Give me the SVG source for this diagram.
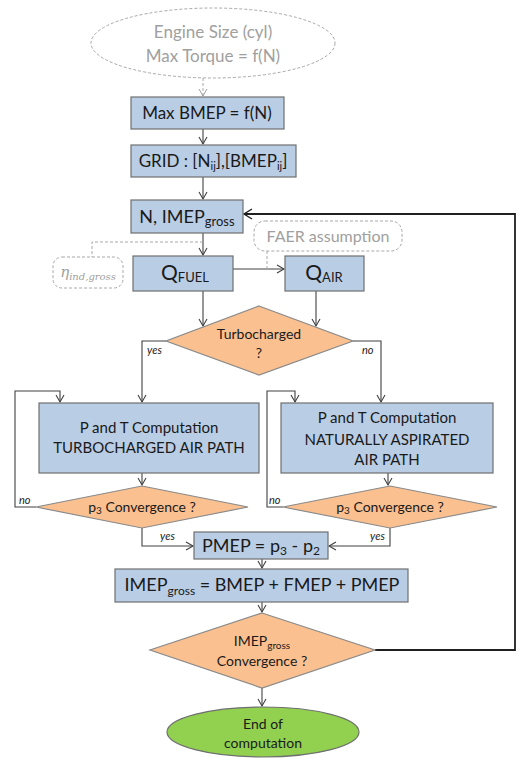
<svg xmlns="http://www.w3.org/2000/svg" width="524" height="768" viewBox="0 0 524 768">
<defs>
<marker id="ar" markerWidth="10" markerHeight="10" refX="8" refY="5" orient="auto" markerUnits="userSpaceOnUse">
<path d="M1,1 L8,5 L1,9" fill="none" stroke="#404040" stroke-width="1.1"/>
</marker>
<marker id="arg" markerWidth="10" markerHeight="10" refX="8" refY="5" orient="auto" markerUnits="userSpaceOnUse">
<path d="M1,1 L8,5 L1,9" fill="none" stroke="#a0a0a0" stroke-width="1"/>
</marker>
<marker id="arb" markerWidth="12" markerHeight="12" refX="9" refY="6" orient="auto" markerUnits="userSpaceOnUse">
<path d="M1,1 L9,6 L1,11" fill="none" stroke="#202020" stroke-width="1.4"/>
</marker>
</defs>
<style>
.box{fill:#B9CDE5;stroke:#6f6f6f;stroke-width:1.2}
.dia{fill:#FAC090;stroke:#8a8a8a;stroke-width:1.2}
.t{font-family:Lato,"Open Sans",sans-serif;fill:#1a1a1a;text-anchor:middle}
.g{font-family:Lato,"Open Sans",sans-serif;fill:#a0a0a0;text-anchor:middle}
.lb{font-family:Lato,"Open Sans",sans-serif;font-style:italic;font-size:11px;fill:#1a1a1a}
.c{fill:none;stroke:#404040;stroke-width:1.1}
.d{fill:none;stroke:#a8a8a8;stroke-width:1;stroke-dasharray:3,2}
</style>
<rect width="524" height="768" fill="#fff"/>
<g id="connectors">
<line class="d" x1="203" y1="78" x2="203" y2="96" marker-end="url(#arg)"/>
<line class="c" x1="203" y1="129" x2="203" y2="144" marker-end="url(#ar)"/>
<line class="c" x1="203" y1="177" x2="203" y2="199" marker-end="url(#ar)"/>
<line class="c" x1="203" y1="233" x2="203" y2="255" marker-end="url(#ar)"/>
<polyline class="d" points="203,242 92,242 92,257"/>
<line class="c" x1="233" y1="269" x2="284" y2="269" marker-end="url(#ar)"/>
<line class="d" x1="267" y1="251" x2="267" y2="269"/>
<line class="c" x1="203" y1="291" x2="203" y2="326" marker-end="url(#ar)"/>
<line class="c" x1="316" y1="291" x2="316" y2="326" marker-end="url(#ar)"/>
<polyline class="c" points="166,341 142,341 142,402" marker-end="url(#ar)"/>
<polyline class="c" points="353,341 381,341 381,402" marker-end="url(#ar)"/>
<line class="c" x1="142" y1="473" x2="142" y2="485" marker-end="url(#ar)"/>
<line class="c" x1="388" y1="473" x2="388" y2="485" marker-end="url(#ar)"/>
<polyline class="c" points="36,507 15,507 15,391 60,391 60,402" marker-end="url(#ar)"/>
<polyline class="c" points="283,507 267,507 267,391 295,391 295,402" marker-end="url(#ar)"/>
<polyline class="c" points="142,528 142,546 193,546" marker-end="url(#ar)"/>
<polyline class="c" points="390,528 390,546 329,546" marker-end="url(#ar)"/>
<line class="c" x1="262" y1="559" x2="262" y2="568" marker-end="url(#ar)"/>
<line class="c" x1="262" y1="602" x2="262" y2="612" marker-end="url(#ar)"/>
<line class="c" x1="262" y1="688" x2="262" y2="706" marker-end="url(#ar)"/>
<polyline fill="none" stroke="#202020" stroke-width="1.8" points="375,650 515,650 515,214 244,214" marker-end="url(#arb)"/>
<text class="lb" x="147" y="354">yes</text>
<text class="lb" x="362" y="354">no</text>
<text class="lb" x="19" y="504">no</text>
<text class="lb" x="269" y="504">no</text>
<text class="lb" x="160" y="540">yes</text>
<text class="lb" x="370" y="540">yes</text>
</g>
<g id="n-engine">
<ellipse cx="213" cy="43" rx="122" ry="35" fill="#fff" stroke="#a8a8a8" stroke-width="1" stroke-dasharray="3,2"/>
<text class="g" x="213" y="38" font-size="17">Engine Size (cyl)</text>
<text class="g" x="213" y="62" font-size="17">Max Torque = f(N)</text>
</g>
<g id="n-maxbmep">
<rect class="box" x="131" y="97" width="153" height="32"/>
<text class="t" x="207" y="119" font-size="17">Max BMEP = f(N)</text>
</g>
<g id="n-grid">
<rect class="box" x="131" y="145" width="165" height="32"/>
<text class="t" x="213" y="167" font-size="17">GRID : [N<tspan font-size="11" dy="3">ij</tspan><tspan dy="-3">],[BMEP</tspan><tspan font-size="11" dy="3">ij</tspan><tspan dy="-3">]</tspan></text>
</g>
<g id="n-nimep">
<rect class="box" x="131" y="200" width="112" height="33"/>
<text class="t" x="187" y="223" font-size="18">N, IMEP<tspan font-size="13" dy="3">gross</tspan></text>
</g>
<g id="n-eta">
<rect x="53" y="257" width="70" height="31" rx="9" fill="#fff" stroke="#a8a8a8" stroke-width="1" stroke-dasharray="3,2"/>
<text x="88" y="277" font-family="'DejaVu Serif','Liberation Serif',serif" font-style="italic" font-size="15" fill="#a0a0a0" text-anchor="middle">η<tspan font-size="10" dy="3">ind,gross</tspan></text>
</g>
<g id="n-faer">
<rect x="254" y="221" width="148" height="30" rx="11" fill="#fff" stroke="#a8a8a8" stroke-width="1" stroke-dasharray="3,2"/>
<text class="g" x="328" y="242" font-size="16">FAER assumption</text>
</g>
<g id="n-qfuel">
<rect class="box" x="133" y="256" width="100" height="35"/>
<text class="t" x="185" y="280" font-size="21">Q<tspan font-size="13" dy="2">FUEL</tspan></text>
</g>
<g id="n-qair">
<rect class="box" x="285" y="256" width="79" height="35"/>
<text class="t" x="324" y="280" font-size="21">Q<tspan font-size="13" dy="2">AIR</tspan></text>
</g>
<g id="n-turbo">
<polygon class="dia" points="259,306 353,341 259,375 166,341"/>
<text class="t" x="259" y="339" font-size="14">Turbocharged</text>
<text class="t" x="259" y="358" font-size="14">?</text>
</g>
<g id="n-tcpath">
<rect class="box" x="39" y="403" width="220" height="70"/>
<text class="t" x="149" y="433" font-size="15">P and T Computation</text>
<text class="t" x="149" y="453" font-size="15">TURBOCHARGED AIR PATH</text>
</g>
<g id="n-napath">
<rect class="box" x="281" y="403" width="212" height="70"/>
<text class="t" x="387" y="423" font-size="15">P and T Computation</text>
<text class="t" x="387" y="445" font-size="15">NATURALLY ASPIRATED</text>
<text class="t" x="387" y="465" font-size="15">AIR PATH</text>
</g>
<g id="n-p3left">
<polygon class="dia" points="142,486 248,507 142,528 36,507"/>
<text class="t" x="142" y="512" font-size="14">p<tspan font-size="10" dy="2">3</tspan><tspan dy="-2"> Convergence ?</tspan></text>
</g>
<g id="n-p3right">
<polygon class="dia" points="390,486 497,507 390,528 283,507"/>
<text class="t" x="390" y="512" font-size="14">p<tspan font-size="10" dy="2">3</tspan><tspan dy="-2"> Convergence ?</tspan></text>
</g>
<g id="n-pmep">
<rect class="box" x="194" y="532" width="134" height="27"/>
<text class="t" x="261" y="552" font-size="18">PMEP = p<tspan font-size="12" dy="3">3</tspan><tspan dy="-3"> - p</tspan><tspan font-size="12" dy="3">2</tspan></text>
</g>
<g id="n-imep">
<rect class="box" x="115" y="569" width="293" height="33"/>
<text class="t" x="262" y="591" font-size="18">IMEP<tspan font-size="12" dy="4">gross</tspan><tspan dy="-4"> = BMEP + FMEP + PMEP</tspan></text>
</g>
<g id="n-imepconv">
<polygon class="dia" points="262,613 375,650 262,688 150,650"/>
<text class="t" x="262" y="646" font-size="14">IMEP<tspan font-size="10" dy="3">gross</tspan></text>
<text class="t" x="262" y="666" font-size="14">Convergence ?</text>
</g>
<g id="n-end">
<ellipse cx="263" cy="732" rx="96" ry="25" fill="#92D050" stroke="#6f6f6f" stroke-width="1.2"/>
<text class="t" x="263" y="729" font-size="14">End of</text>
<text class="t" x="263" y="748" font-size="14">computation</text>
</g>
</svg>
